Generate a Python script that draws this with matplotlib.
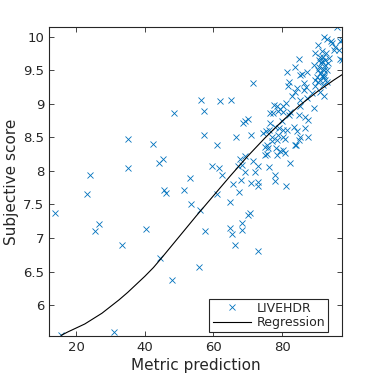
import matplotlib
matplotlib.use('Agg')
import matplotlib.pyplot as plt

# pontos (predicao da metrica x nota subjetiva)
metric_pred = [13.7, 15.6, 23.1, 24.1, 25.5, 26.5, 31.1, 33.3, 35.1, 35.2,
               40.4, 42.5, 44.0, 45.2, 44.5, 45.7, 46.2, 47.8, 48.4, 51.5,
               53.2, 53.4, 55.7, 56.2, 56.4, 57.1, 57.1, 57.4, 59.7, 61.0,
               61.9, 61.5, 62.5, 60.9, 64.7, 65.2, 64.9, 65.5, 66.2, 65.7,
               66.7, 67.3, 67.4, 67.8, 67.9, 68.3, 68.2, 68.3, 68.6, 69.3,
               69.3, 69.3, 70.1, 70.0, 70.7, 70.9, 71.0, 71.4, 71.6, 72.2,
               72.9, 73.0, 73.1, 73.0, 74.4, 75.4, 75.1, 75.7, 75.8, 75.1,
               75.6, 76.1, 76.1, 76.6, 76.6, 77.0, 77.0, 77.5, 77.7, 77.9,
               78.0, 78.0, 78.3, 78.5, 78.5, 78.5, 78.7, 78.9, 79.0, 79.5,
               79.5, 80.0, 80.4, 80.4, 80.4, 80.4, 80.4, 80.9, 80.9, 81.1,
               81.2, 81.4, 81.5, 81.6, 81.9, 81.9, 82.4, 82.4, 82.9, 83.4,
               83.8, 83.8, 83.8, 84.1, 84.3, 84.3, 84.8, 84.8, 84.8, 85.3,
               85.3, 85.3, 85.3, 86.3, 86.3, 86.8, 86.8, 87.1, 87.2, 87.7,
               87.7, 88.7, 89.2, 89.2, 89.7, 89.7, 90.2, 90.6, 90.6, 90.9,
               91.2, 91.2, 91.6, 91.9, 92.1, 92.1, 92.3, 92.5, 93.1, 93.1,
               93.8, 94.2, 95.0, 95.5, 96.0, 96.5, 96.9, 97.4, 97.4, 90.8,
               91.3, 91.8, 92.0, 92.6, 91.5, 92.4, 93.0, 91.0, 92.8, 93.5,
               90.5, 91.7, 92.1, 94.5, 97.0, 87.2, 85.8, 92.1, 91.2, 89.7]
subj_score = [7.38, 5.55, 7.66, 7.94, 7.10, 7.21, 5.60, 6.89, 8.48, 8.05,
              7.14, 8.40, 8.12, 8.17, 6.70, 7.71, 7.67, 6.38, 8.86, 7.71,
              7.89, 7.51, 6.57, 7.41, 9.06, 8.89, 8.53, 7.11, 8.08, 8.39,
              9.04, 8.04, 7.94, 7.66, 7.54, 9.06, 7.15, 7.06, 6.90, 7.81,
              8.50, 8.07, 7.68, 8.17, 7.86, 8.09, 7.22, 7.12, 8.71, 8.22,
              7.98, 8.75, 8.77, 7.34, 7.38, 8.54, 7.82, 9.31, 8.14, 7.98,
              8.07, 7.83, 7.77, 6.81, 8.56, 8.59, 8.24, 8.25, 8.34, 8.36,
              8.39, 8.06, 8.61, 8.86, 8.71, 8.51, 8.44, 8.86, 8.98, 7.85,
              7.94, 8.66, 8.34, 8.24, 8.46, 8.96, 8.89, 8.54, 8.64, 8.92,
              8.29, 8.74, 8.87, 8.61, 8.51, 8.31, 8.96, 8.47, 8.27, 7.77,
              9.01, 8.61, 9.47, 9.27, 9.33, 8.83, 8.88, 8.12, 9.11, 8.66,
              9.55, 9.18, 8.39, 8.39, 9.23, 8.59, 9.66, 8.83, 8.46, 9.43,
              9.06, 8.96, 8.51, 9.31, 9.21, 8.81, 8.64, 9.25, 9.08, 8.76,
              8.51, 9.16, 9.58, 8.93, 9.75, 9.26, 9.40, 9.88, 9.33, 9.65,
              9.46, 9.18, 9.63, 9.28, 9.50, 9.40, 9.11, 9.65, 9.96, 9.33,
              9.68, 9.93, 9.80, 9.85, 10.14, 9.80, 9.93, 9.65, 9.95, 9.55,
              9.60, 9.52, 9.70, 9.58, 9.42, 9.36, 9.50, 9.70, 9.75, 9.60,
              9.50, 9.78, 10.00, 9.90, 9.67, 9.47, 9.45, 9.43, 9.35, 9.35]

# curva de regressao
reg_x = [15.6, 17.5, 20, 22.5, 25, 27.5, 30, 32.5, 35, 37.5, 40, 42.5, 45,
         50, 55, 60, 65, 70, 75, 80, 85, 90, 95, 97.4]
reg_y = [5.55, 5.60, 5.66, 5.72, 5.80, 5.88, 5.98, 6.08, 6.19, 6.31, 6.43,
         6.56, 6.71, 7.02, 7.33, 7.63, 7.93, 8.22, 8.49, 8.74, 8.97, 9.17,
         9.35, 9.43]

cinza = '#262626'
plt.rcParams['font.family'] = 'DejaVu Sans'

fig = plt.figure(figsize=(3.78, 3.78), dpi=100)
ax = fig.add_axes([0.13, 0.111, 0.775, 0.817])

ax.plot(metric_pred, subj_score, 'x', color='#0072BD', markersize=5,
        markeredgewidth=0.6, label='LIVEHDR')
ax.plot(reg_x, reg_y, '-', color='black', linewidth=0.8, label='Regression')

ax.set_xlim(12.1, 97.5)
ax.set_ylim(5.54, 10.14)
ax.set_xticks([20, 40, 60, 80])
ax.set_yticks([6, 6.5, 7, 7.5, 8, 8.5, 9, 9.5, 10])
ax.set_yticklabels(['6', '6.5', '7', '7.5', '8', '8.5', '9', '9.5', '10'])
ax.tick_params(direction='in', top=True, right=True, length=3.5, width=0.6,
               colors=cinza, labelsize=9.5, labelcolor=cinza)
for s in ax.spines.values():
    s.set_color(cinza)
    s.set_linewidth(0.8)

ax.set_xlabel('Metric prediction', fontsize=11, color=cinza, labelpad=3)
ax.set_ylabel('Subjective score', fontsize=11, color=cinza, labelpad=3)

leg = ax.legend(loc='lower right', bbox_to_anchor=(0.952, 0.013), fontsize=9,
                fancybox=False, framealpha=1, edgecolor=cinza, borderpad=0.25,
                handlelength=3.1, borderaxespad=0, labelspacing=0.1,
                handletextpad=0.4)
leg.get_frame().set_linewidth(0.8)
for t in leg.get_texts():
    t.set_color(cinza)

fig.savefig('out.png', dpi=100)
